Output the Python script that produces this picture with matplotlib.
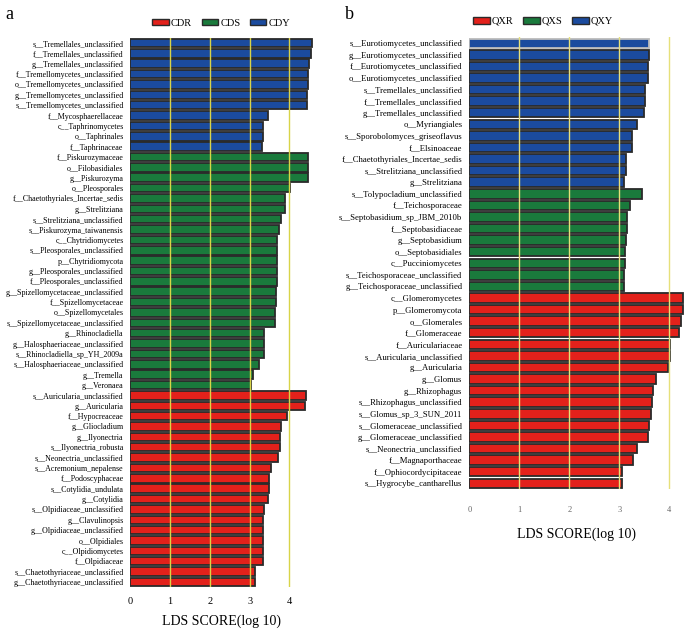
import matplotlib.pyplot as plt
import numpy as np
from matplotlib.patches import Patch

plt.rcParams['font.family'] = ['Liberation Serif', 'DejaVu Serif']

# panel a
labels_a = [
    's__Tremellales_unclassified', 'f__Tremellales_unclassified', 'g__Tremellales_unclassified',
    'f__Tremellomycetes_unclassified', 'o__Tremellomycetes_unclassified',
    'g__Tremellomycetes_unclassified', 's__Tremellomycetes_unclassified',
    'f__Mycosphaerellaceae', 'c__Taphrinomycetes', 'o__Taphrinales', 'f__Taphrinaceae',
    'f__Piskurozymaceae', 'o__Filobasidiales', 'g__Piskurozyma', 'o__Pleosporales',
    'f__Chaetothyriales_Incertae_sedis', 'g__Strelitziana', 's__Strelitziana_unclassified',
    's__Piskurozyma_taiwanensis', 'c__Chytridiomycetes', 's__Pleosporales_unclassified',
    'p__Chytridiomycota', 'g__Pleosporales_unclassified', 'f__Pleosporales_unclassified',
    'g__Spizellomycetaceae_unclassified', 'f__Spizellomycetaceae', 'o__Spizellomycetales',
    's__Spizellomycetaceae_unclassified', 'g__Rhinocladiella', 'g__Halosphaeriaceae_unclassified',
    's__Rhinocladiella_sp_YH_2009a', 's__Halosphaeriaceae_unclassified', 'g__Tremella',
    'g__Veronaea',
    's__Auricularia_unclassified', 'g__Auricularia', 'f__Hypocreaceae', 'g__Gliocladium',
    'g__Ilyonectria', 's__Ilyonectria_robusta', 's__Neonectria_unclassified',
    's__Acremonium_nepalense', 'f__Podoscyphaceae', 's__Cotylidia_undulata', 'g__Cotylidia',
    's__Olpidiaceae_unclassified', 'g__Clavulinopsis', 'g__Olpidiaceae_unclassified',
    'o__Olpidiales', 'c__Olpidiomycetes', 'f__Olpidiaceae',
    's__Chaetothyriaceae_unclassified', 'g__Chaetothyriaceae_unclassified',
]
scores_a = [
    4.56, 4.54, 4.50, 4.47, 4.47, 4.45, 4.45, 3.46, 3.35, 3.35, 3.32,
    4.48, 4.48, 4.46, 4.02, 3.89, 3.89, 3.79, 3.74, 3.68, 3.68, 3.68, 3.68, 3.68,
    3.66, 3.66, 3.65, 3.63, 3.36, 3.36, 3.36, 3.24, 3.09, 3.04,
    4.41, 4.39, 3.95, 3.79, 3.76, 3.76, 3.72, 3.55, 3.50, 3.50, 3.47,
    3.37, 3.35, 3.35, 3.35, 3.35, 3.33, 3.13, 3.13,
]
groups_a = ['CDY'] * 11 + ['CDS'] * 23 + ['CDR'] * 19

# panel b
labels_b = [
    's__Eurotiomycetes_unclassified', 'g__Eurotiomycetes_unclassified',
    'f__Eurotiomycetes_unclassified', 'o__Eurotiomycetes_unclassified',
    's__Tremellales_unclassified', 'f__Tremellales_unclassified', 'g__Tremellales_unclassified',
    'o__Myriangiales', 's__Sporobolomyces_griseoflavus', 'f__Elsinoaceae',
    'f__Chaetothyriales_Incertae_sedis', 's__Strelitziana_unclassified', 'g__Strelitziana',
    's__Tolypocladium_unclassified', 'f__Teichosporaceae', 's__Septobasidium_sp_JBM_2010b',
    'f__Septobasidiaceae', 'g__Septobasidium', 'o__Septobasidiales', 'c__Pucciniomycetes',
    's__Teichosporaceae_unclassified', 'g__Teichosporaceae_unclassified',
    'c__Glomeromycetes', 'p__Glomeromycota', 'o__Glomerales', 'f__Glomeraceae',
    'f__Auriculariaceae', 's__Auricularia_unclassified', 'g__Auricularia', 'g__Glomus',
    'g__Rhizophagus', 's__Rhizophagus_unclassified', 's__Glomus_sp_3_SUN_2011',
    's__Glomeraceae_unclassified', 'g__Glomeraceae_unclassified', 's__Neonectria_unclassified',
    'f__Magnaporthaceae', 'f__Ophiocordycipitaceae', 's__Hygrocybe_cantharellus',
]
scores_b = [
    3.59, 3.60, 3.58, 3.57, 3.52, 3.51, 3.49, 3.35, 3.25, 3.25, 3.14, 3.14, 3.09,
    3.45, 3.21, 3.15, 3.15, 3.14, 3.12, 3.12, 3.10, 3.09,
    4.28, 4.27, 4.24, 4.19, 4.01, 4.01, 3.97, 3.73, 3.68, 3.66, 3.64, 3.59, 3.57,
    3.35, 3.28, 3.06, 3.05,
]
groups_b = ['QXY'] * 13 + ['QXS'] * 9 + ['QXR'] * 17

red, green, blue = '#e3211b', '#1a7a3c', '#1b4b9e'
colors_a = {'CDR': red, 'CDS': green, 'CDY': blue}
colors_b = {'QXR': red, 'QXS': green, 'QXY': blue}


def draw(ax, labels, scores, groups, cmap, xmax, grid_color, pad, fs):
    y = np.arange(len(labels))
    ax.barh(y, scores, height=0.82, color=[cmap[g] for g in groups],
            edgecolor='#2a2a2a', linewidth=1.3, zorder=2)
    ax.set_yticks(y)
    ax.set_yticklabels(labels, fontsize=fs)
    ax.set_ylim(len(labels) - 0.5, -0.5)
    ax.set_xlim(0, xmax)
    ax.set_xticks([0, 1, 2, 3, 4])
    for v in [1, 2, 3, 4]:
        ax.axvline(v, color=grid_color, linewidth=1.0, zorder=3)
    for s in ax.spines.values():
        s.set_visible(False)
    ax.tick_params(axis='both', length=0)
    ax.tick_params(axis='y', pad=pad)


fig = plt.figure(figsize=(6.85, 6.3), dpi=100)

ax1 = fig.add_axes([0.1905, 0.068, 0.2666, 0.872])
draw(ax1, labels_a, scores_a, groups_a, colors_a, 4.6, '#d8d448', 5, 5.8)
ax1.tick_params(axis='x', labelsize=7.5, pad=7)
ax1.set_xlabel('LDS SCORE(log 10)', fontsize=10, labelpad=6)

ax2 = fig.add_axes([0.6851, 0.2237, 0.3139, 0.7168])
draw(ax2, labels_b, scores_b, groups_b, colors_b, 4.3, '#e6e07a', 5, 6.2)
ax2.patches[0].set_edgecolor('#bbbbbb')
ax2.tick_params(axis='x', labelsize=6, pad=12, labelcolor='#666666')
ax2.set_xlabel('LDS SCORE(log 10)', fontsize=10, labelpad=10)

for ax, names, cmap, cx, cy in [(ax1, ['CDR', 'CDS', 'CDY'], colors_a, 0.323, 0.963),
                                (ax2, ['QXR', 'QXS', 'QXY'], colors_b, 0.793, 0.966)]:
    handles = [Patch(facecolor=cmap[n], edgecolor='#2a2a2a', linewidth=1.0, label=n) for n in names]
    fig.legend(handles=handles, loc='center', bbox_to_anchor=(cx, cy), ncol=3, frameon=False,
               fontsize=7.5, handlelength=1.6, handleheight=0.6, handletextpad=0.2,
               columnspacing=0.9)

fig.text(0.008, 0.99, 'a', fontsize=13, va='top')
fig.text(0.503, 0.99, 'b', fontsize=13, va='top')

fig.savefig('out.png', dpi=100)
